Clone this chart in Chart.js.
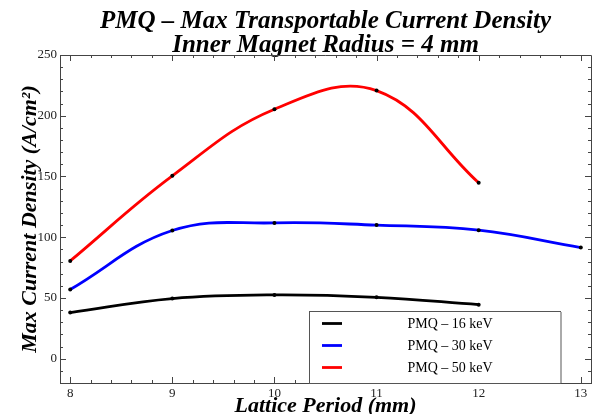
<!DOCTYPE html>
<html>
<head>
<meta charset="utf-8">
<script src="https://cdn.jsdelivr.net/npm/chart.js@4/dist/chart.umd.min.js"></script>
<style>
  html, body { margin: 0; padding: 0; background: #fff; }
  #wrap { width: 598px; height: 414px; }
</style>
</head>
<body>
<div id="wrap"><canvas id="chart" width="598" height="414"></canvas></div>
<script>
// values
const periods16 = [8, 9, 10, 11, 12];
const density16 = [38, 49.5, 52.5, 50.5, 44.5];
const periods30 = [8, 9, 10, 11, 12, 13];
const density30 = [57, 105.5, 111.8, 110, 105.8, 91.5];
const periods50 = [8, 9, 10, 11, 12];
const density50 = [80.5, 150.5, 205.3, 220.7, 144.8];
const seriesLabels = ["PMQ \u2013 16 keV", "PMQ \u2013 30 keV", "PMQ \u2013 50 keV"];
const seriesColors = ["#000000", "#0000ff", "#ff0000"];
const xTicks = [8, 9, 10, 11, 12, 13];
const yTicks = [0, 50, 100, 150, 200, 250];

const serif = "'Liberation Serif', 'DejaVu Serif', serif";

function points(xs, ys) {
  return xs.map((x, i) => ({ x: x, y: ys[i] }));
}

function makeSet(i, xs, ys) {
  return {
    label: seriesLabels[i],
    data: points(xs, ys),
    borderColor: seriesColors[i],
    borderWidth: 2.8,
    tension: 0.4,
    pointRadius: 2,
    pointBorderWidth: 0,
    pointBackgroundColor: "#000",
    fill: false,
  };
}

// inward ticks on all four sides of the frame, Mathematica style
const frameTicks = {
  id: "frameTicks",
  afterDatasetsDraw(chart) {
    const { ctx, chartArea: a, scales } = chart;
    const xs = scales.x, ys = scales.y;
    ctx.save();
    ctx.strokeStyle = "#444";
    ctx.lineWidth = 1;
    ctx.beginPath();
    ctx.moveTo(a.left, a.top + 0.5);
    ctx.lineTo(a.right + 0.5, a.top + 0.5);
    ctx.lineTo(a.right + 0.5, a.bottom);
    ctx.stroke();
    ctx.beginPath();
    for (let v = 8; v <= 13.001; v += 0.2) {
      const major = Math.abs(v - Math.round(v)) < 0.01;
      const len = major ? 6 : 3;
      const px = Math.round(xs.getPixelForValue(v)) + 0.5;
      ctx.moveTo(px, a.bottom);
      ctx.lineTo(px, a.bottom - len);
      ctx.moveTo(px, a.top);
      ctx.lineTo(px, a.top + len);
    }
    for (let v = -20; v <= 250; v += 10) {
      const major = v % 50 === 0;
      const len = major ? 6 : 3;
      const py = Math.round(ys.getPixelForValue(v)) + 0.5;
      ctx.moveTo(a.left, py);
      ctx.lineTo(a.left + len, py);
      ctx.moveTo(a.right, py);
      ctx.lineTo(a.right - len, py);
    }
    ctx.stroke();
    ctx.restore();
  },
};

// boxed legend in the lower right of the plot
const boxLegend = {
  id: "boxLegend",
  afterDraw(chart) {
    const { ctx, chartArea: a } = chart;
    const left = 309, top = 311, right = 560, bottom = a.bottom;
    ctx.save();
    ctx.fillStyle = "#fff";
    ctx.fillRect(left, top, right - left, bottom - top);
    ctx.strokeStyle = "#555";
    ctx.lineWidth = 1;
    ctx.strokeRect(left + 0.5, top + 0.5, right - left, bottom - top);
    ctx.strokeStyle = "#aaa";
    ctx.lineWidth = 2;
    ctx.beginPath();
    ctx.moveTo(right + 1, top + 1);
    ctx.lineTo(right + 1, bottom);
    ctx.stroke();
    ctx.font = "14px " + serif;
    ctx.textAlign = "center";
    ctx.textBaseline = "middle";
    chart.data.datasets.forEach((ds, i) => {
      const y = top + 12.5 + i * 22;
      ctx.strokeStyle = ds.borderColor;
      ctx.lineWidth = 2.8;
      ctx.beginPath();
      ctx.moveTo(322, y);
      ctx.lineTo(342, y);
      ctx.stroke();
      ctx.fillStyle = "#000";
      ctx.fillText(ds.label, 450, y + 1);
    });
    ctx.restore();
  },
};

new Chart(document.getElementById("chart"), {
  type: "line",
  data: {
    datasets: [
      makeSet(0, periods16, density16),
      makeSet(1, periods30, density30),
      makeSet(2, periods50, density50),
    ],
  },
  options: {
    responsive: false,
    animation: false,
    layout: { padding: { left: 0, right: 7, top: 0, bottom: 0 } },
    plugins: {
      legend: { display: false },
      tooltip: { enabled: false },
      title: {
        display: true,
        fullSize: false,
        text: ["PMQ \u2013 Max Transportable Current Density", "Inner Magnet Radius = 4 mm"],
        color: "#000",
        font: { family: serif, size: 25, weight: "bold", style: "italic", lineHeight: 0.96 },
        padding: { top: 9.5, bottom: -2.5 },
      },
    },
    scales: {
      x: {
        type: "linear",
        min: 7.9,
        max: 13.1,
        afterFit: (s) => { s.height = 31; },
        afterBuildTicks: (s) => { s.ticks = xTicks.map((v) => ({ value: v })); },
        grid: { display: false, drawTicks: false },
        border: { display: true, color: "#444", width: 1 },
        ticks: { color: "#222", padding: 3, font: { family: serif, size: 13 } },
        title: {
          display: true,
          text: "Lattice Period (mm)",
          color: "#000",
          font: { family: serif, size: 22, weight: "bold", style: "italic", lineHeight: 1.0 },
          padding: { top: 0, bottom: -3 },
        },
      },
      y: {
        min: -20,
        max: 250,
        afterFit: (s) => { s.width = 60; },
        afterBuildTicks: (s) => { s.ticks = yTicks.map((v) => ({ value: v })); },
        grid: { display: false, drawTicks: false },
        border: { display: true, color: "#444", width: 1 },
        ticks: { color: "#222", padding: 3, font: { family: serif, size: 13 } },
        title: {
          display: true,
          text: "Max Current Density (A/cm\u00b2)",
          color: "#000",
          font: { family: serif, size: 22, weight: "bold", style: "italic", lineHeight: 1.0 },
          padding: { top: 19, bottom: 0 },
        },
      },
    },
  },
  plugins: [frameTicks, boxLegend],
});
</script>
</body>
</html>
